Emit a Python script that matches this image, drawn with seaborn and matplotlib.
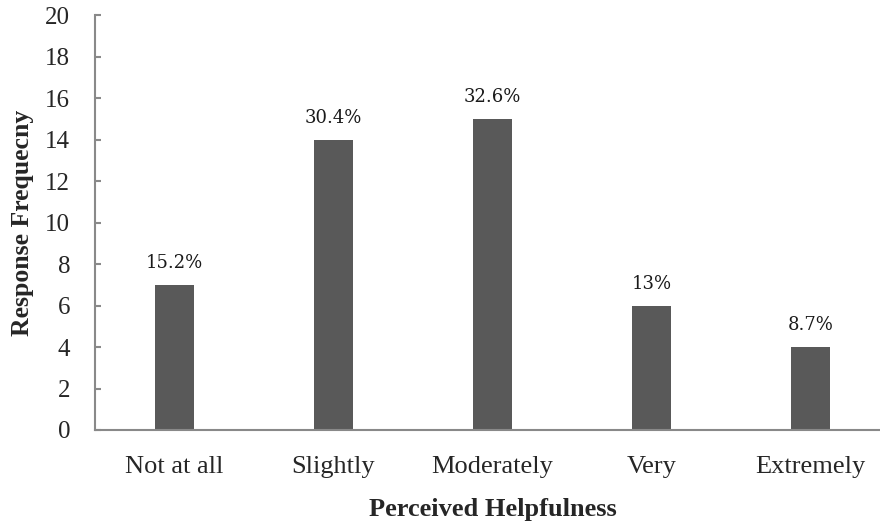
import matplotlib
matplotlib.use("Agg")
import matplotlib.pyplot as plt
import pandas as pd
import seaborn as sns

# Data
categories = ['Not at all', 'Slightly', 'Moderately', 'Very', 'Extremely']
frequency = [7, 14, 15, 6, 4]
percent_labels = ['15.2%', '30.4%', '32.6%', '13%', '8.7%']
y_ticks = list(range(0, 21, 2))

df = pd.DataFrame({'helpfulness': categories, 'frequency': frequency})

sns.set_style('white')
plt.rcParams['font.family'] = ['Liberation Serif', 'DejaVu Serif']

fig = plt.figure(figsize=(8.8, 5.22), dpi=100)
# axis runs past the right edge like in the original screenshot
ax = fig.add_axes([95 / 880, 92 / 522, 795 / 880, 414.5 / 522])

sns.barplot(data=df, x='helpfulness', y='frequency', order=categories,
            color='#595959', saturation=1, width=0.25, linewidth=0, ax=ax)

for i, (val, lab) in enumerate(zip(frequency, percent_labels)):
    ax.annotate(lab, (i, val), xytext=(0, 12), textcoords='offset points',
                ha='center', va='baseline', fontsize=13,
                family='DejaVu Serif', color='#1a1a1a')

ax.set_ylim(0, 20)
ax.set_yticks(y_ticks)
ax.set_xlim(-0.5, 4.5)

for side in ['top', 'right']:
    ax.spines[side].set_visible(False)
for side in ['left', 'bottom']:
    ax.spines[side].set_color('#898989')
    ax.spines[side].set_linewidth(1.5)

ax.tick_params(axis='y', direction='in', length=4, width=1.5, color='#898989',
               labelsize=18, pad=18, left=True)
ax.tick_params(axis='x', length=0, labelsize=19, pad=19)

ax.set_xlabel('Perceived Helpfulness', fontsize=19, fontweight='bold', labelpad=14)
ax.set_ylabel('Response Frequecny', fontsize=18.5, fontweight='bold', labelpad=8)

fig.savefig('out.png', dpi=100)
